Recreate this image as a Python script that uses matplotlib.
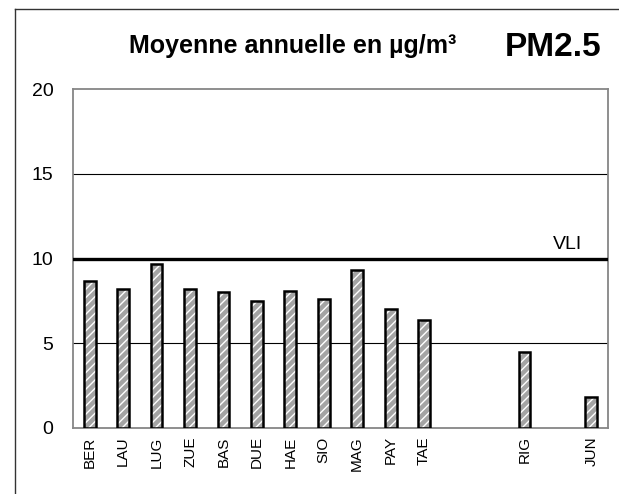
import numpy as np
import matplotlib.pyplot as plt
from matplotlib.lines import Line2D

plt.rcParams['font.family'] = ['Liberation Sans', 'DejaVu Sans']

# annual means per station, gaps left empty between station groups
stations = ['BER', 'LAU', 'LUG', 'ZUE', 'BAS', 'DUE', 'HAE', 'SIO', 'MAG',
            'PAY', 'TAE', '', '', 'RIG', '', 'JUN']
pm25 = [8.7, 8.2, 9.7, 8.2, 8.0, 7.5, 8.1, 7.6, 9.3,
        7.0, 6.4, np.nan, np.nan, 4.5, np.nan, 1.8]
vli = 10
y_ticks = [0, 5, 10, 15, 20]

fig = plt.figure(figsize=(6.19, 4.94), dpi=100)
ax = fig.add_axes([73 / 619, 1 - 428 / 494, 535 / 619, 339 / 494])

x = np.arange(len(stations))
vals = np.array(pm25)

# hatched fill first (white stripes on grey), then the black outline on top
ax.bar(x, vals, width=0.35, color='#a4a4a4', edgecolor='white',
       hatch='////', linewidth=0, zorder=3)
ax.bar(x, vals, width=0.35, color='none', edgecolor='black',
       linewidth=1.8, zorder=4)

ax.set_xlim(-0.5, len(stations) - 0.5)
ax.set_ylim(0, 20)
ax.set_yticks(y_ticks)
ax.set_yticklabels([str(t) for t in y_ticks], fontsize=14)
ax.set_xticks(x)
ax.set_xticklabels(stations, rotation=90, fontsize=11)
ax.tick_params(axis='y', length=0, pad=14)
ax.tick_params(axis='x', length=0, pad=6)

for t in y_ticks[1:-1]:
    ax.axhline(t, color='black', linewidth=0.8, zorder=1)

ax.axhline(vli, color='black', linewidth=2.4, zorder=5)
ax.text(0.951, vli + 0.35, 'VLI', transform=ax.get_yaxis_transform(),
        ha='right', va='bottom', fontsize=14)

for side in ax.spines.values():
    side.set_color('#868686')
    side.set_linewidth(1.3)

fig.text(293 / 619, 1 - 46 / 494, 'Moyenne annuelle en µg/m³',
         ha='center', va='center', fontsize=18, fontweight='bold')
fig.text(601 / 619, 1 - 47 / 494, 'PM2.5',
         ha='right', va='center', fontsize=24, fontweight='bold')

# outer frame (left and top edges only)
fig.add_artist(Line2D([15 / 619, 15 / 619], [0, 1 - 9 / 494],
                      transform=fig.transFigure, color='#333333', linewidth=1))
fig.add_artist(Line2D([15 / 619, 1], [1 - 9 / 494, 1 - 9 / 494],
                      transform=fig.transFigure, color='#333333', linewidth=1))

fig.savefig('out.png', dpi=100)
